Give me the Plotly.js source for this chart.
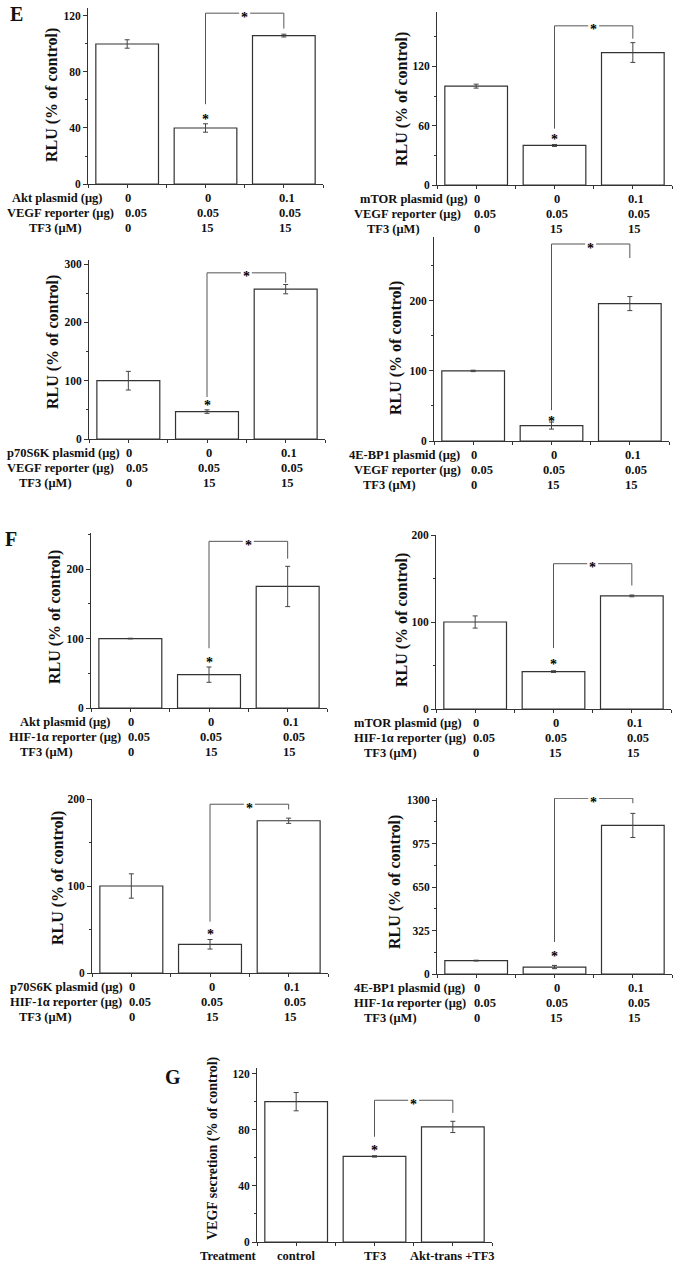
<!DOCTYPE html>
<html>
<head>
<meta charset="utf-8">
<script src="https://cdn.plot.ly/plotly-3.0.1.min.js"></script>
<style>
  body { margin: 0; background: #fff; }
  #chart { width: 677px; height: 1265px; }
</style>
</head>
<body>
<div id="chart"></div>
<script>
// ---- values (% of control) ----
const valsE1 = [100, 40, 106];   const errE1 = [3, 3, 1];
const valsE2 = [100, 40, 134];   const errE2 = [2, 1, 10];
const valsE3 = [100, 47, 257];   const errE3 = [16, 3, 8];
const valsE4 = [100, 22, 196];   const errE4 = [1, 5, 10];
const valsF1 = [100, 48, 175];   const errF1 = [0.5, 11, 29];
const valsF2 = [100, 43, 130];   const errF2 = [7, 1, 1];
const valsF3 = [100, 33, 175];   const errF3 = [14, 5.5, 3];
const valsF4 = [100, 52, 1110];  const errF4 = [3, 12, 90];
const valsG  = [100, 61, 82];    const errG  = [6.5, 0.5, 4];

// significance brackets: [top, left end, right end, star over bar 2]
const brE1 = [122, 57, 111, 49];
const brE2 = [161, 57, 148, 50];
const brE3 = [285, 72, 268, 65];
const brE4 = [281, 44, 261, 34];
const brF1 = [240, 86, 215, 72];
const brF2 = [167, 70, 142, 56];
const brF3 = [194, 59, 188, 49];
const brF4 = [1313, 239, 1276, 157];
const brG  = [101, 75, 92, 68];

// row labels under the x axis
const vegfRep = 'VEGF reporter (\u03bcg)';
const hifRep = 'HIF-1\u03b1 reporter (\u03bcg)';
const tf3Label = 'TF3 (\u03bcM)';
const plasmidDose = ['0', '0', '0.1'];
const reporterDose = ['0.05', '0.05', '0.05'];
const tf3Dose = ['0', '15', '15'];
const treatments = ['control', 'TF3', 'Akt-trans +TF3'];

const W = 677, H = 1265;
const px = v => v / W;
const py = v => 1 - v / H;
const FONT = 'Liberation Serif, Times New Roman, serif';
const ink = '#333';

const rlu = 'RLU (% of control)';
const rows3 = (plasmid, reporter) => [
  [plasmid, plasmidDose], [reporter, reporterDose], [tf3Label, tf3Dose]
];

// box = [left, right, top, bottom] in page pixels
const panels = [
  {vals: valsE1, err: errE1, br: brE1, box: [88, 323, 8, 184], top: 125.7, dtick: 40,
   rows: rows3('Akt plasmid (\u03bcg)', vegfRep), labelX: [10, 5, 27], title: rlu, tx: 52, ty: 95},
  {vals: valsE2, err: errE2, br: brE2, box: [437, 672, 12, 185], top: 175, dtick: 60,
   rows: rows3('mTOR plasmid (\u03bcg)', vegfRep), labelX: [358, 352, 365], title: rlu, tx: 402, ty: 99},
  {vals: valsE3, err: errE3, br: brE3, box: [89, 325, 260, 439], top: 307, dtick: 100,
   rows: rows3('p70S6K plasmid (\u03bcg)', vegfRep), labelX: [5, 5, 17], title: rlu, tx: 53, ty: 342},
  {vals: valsE4, err: errE4, br: brE4, box: [434, 669, 237, 441], top: 291, dtick: 100,
   rows: rows3('4E-BP1 plasmid (\u03bcg)', vegfRep), labelX: [347, 352, 361], title: rlu, tx: 396, ty: 348},
  {vals: valsF1, err: errF1, br: brF1, box: [91, 327, 533, 708], top: 252, dtick: 100,
   rows: rows3('Akt plasmid (\u03bcg)', hifRep), labelX: [18, 7, 18], title: rlu, tx: 55, ty: 617},
  {vals: valsF2, err: errF2, br: brF2, box: [436, 671, 535, 709], top: 200, dtick: 100,
   rows: rows3('mTOR plasmid (\u03bcg)', hifRep), labelX: [352, 352, 362], title: rlu, tx: 402, ty: 620},
  {vals: valsF3, err: errF3, br: brF3, box: [92, 328, 799, 973], top: 200, dtick: 100,
   rows: rows3('p70S6K plasmid (\u03bcg)', hifRep), labelX: [8, 8, 17], title: rlu, tx: 58, ty: 878},
  {vals: valsF4, err: errF4, br: brF4, box: [437, 672, 798, 974], top: 1315, dtick: 325,
   rows: rows3('4E-BP1 plasmid (\u03bcg)', hifRep), labelX: [352, 352, 362], title: rlu, tx: 395, ty: 882},
  {vals: valsG, err: errG, br: brG, box: [257, 492, 1068, 1242], top: 124, dtick: 40,
   rows: [['Treatment', treatments]], labelX: [198], title: 'VEGF secretion (% of control)',
   tx: 213, ty: 1148, titleSize: 14, centered: true}
];

const data = [];
const annotations = [];
const layout = {
  width: W, height: H,
  margin: {l: 0, r: 0, t: 0, b: 0},
  paper_bgcolor: '#fff', plot_bgcolor: '#fff',
  showlegend: false, hovermode: false,
  font: {family: FONT, color: '#111'},
  annotations: annotations
};

const txt = (size, color) => ({family: FONT, size: size, weight: 'bold', color: color || '#111'});

panels.forEach((p, i) => {
  const sfx = i === 0 ? '' : String(i + 1);
  const xa = 'x' + sfx, ya = 'y' + sfx;
  const [l, r, t, b] = p.box;

  data.push({
    type: 'bar', x: [0, 1, 2], y: p.vals, xaxis: xa, yaxis: ya, width: 0.8,
    marker: {color: '#fff', line: {color: ink, width: 1.2}},
    error_y: {type: 'data', array: p.err, color: '#444', thickness: 1, width: 2.5}
  });

  // bracket between bar 2 and bar 3, gap in the middle for the star
  const br = p.br;
  data.push({
    type: 'scatter', mode: 'lines', xaxis: xa, yaxis: ya,
    x: [1, 1, 1.43, null, 1.57, 2, 2],
    y: [br[1], br[0], br[0], null, br[0], br[0], br[2]],
    line: {color: '#555', width: 1}, cliponaxis: false
  });
  annotations.push({xref: xa, yref: ya, x: 1.5, y: br[0], text: '*', showarrow: false,
    font: txt(14, '#000'), yshift: -4});
  annotations.push({xref: xa, yref: ya, x: 1, y: br[3], text: '*', showarrow: false,
    font: txt(14, '#000'), yshift: -4});

  layout['xaxis' + sfx] = {
    domain: [px(l), px(r)], anchor: ya, range: [-0.5, 2.5],
    showline: true, linecolor: ink, linewidth: 1, showgrid: false, zeroline: false,
    ticks: 'outside', ticklen: 3, tickcolor: ink, tick0: 0, dtick: 0.5, showticklabels: false
  };
  layout['yaxis' + sfx] = {
    domain: [py(b), py(t)], anchor: xa, range: [0, p.top],
    showline: true, linecolor: ink, linewidth: 1, showgrid: false, zeroline: false,
    ticks: 'outside', ticklen: 4, tickcolor: ink, tick0: 0, dtick: p.dtick,
    minor: {ticks: 'outside', ticklen: 2, tickcolor: ink, dtick: p.dtick / 2, showgrid: false},
    tickfont: txt(11.5)
  };

  // axis title
  annotations.push({xref: 'paper', yref: 'paper', x: px(p.tx), y: py(p.ty), text: p.title,
    textangle: -90, showarrow: false, font: txt(p.titleSize || 16),
    xanchor: 'center', yanchor: 'middle'});

  // dose rows
  p.rows.forEach((row, k) => {
    const yRow = py(b + 14 + 15 * k);
    annotations.push({xref: 'paper', yref: 'paper', x: px(p.labelX[k]), y: yRow, text: row[0],
      showarrow: false, xanchor: 'left', yanchor: 'middle', font: txt(12.5)});
    row[1].forEach((v, c) => {
      let anchor = 'center', shift = 0;
      if (!p.centered) {
        if (c === 0) { anchor = 'left'; shift = -4; }
        else if (c === 1) { shift = 2; }
        else { anchor = 'left'; shift = -7; }
      }
      annotations.push({xref: xa, yref: 'paper', x: c, y: yRow, text: v, showarrow: false,
        xanchor: anchor, yanchor: 'middle', xshift: shift, font: txt(12.5)});
    });
  });
});

// panel letters
[['E', 16, 14], ['F', 11, 539], ['G', 173, 1077]].forEach(([s, x, y]) => {
  annotations.push({xref: 'paper', yref: 'paper', x: px(x), y: py(y), text: s, showarrow: false,
    xanchor: 'center', yanchor: 'middle', font: txt(20)});
});

Plotly.newPlot('chart', data, layout, {staticPlot: true});
</script>
</body>
</html>
